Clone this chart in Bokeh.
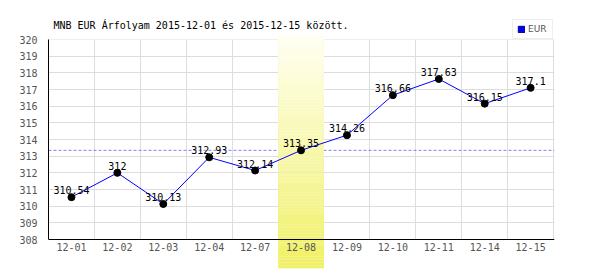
from bokeh.plotting import figure
from bokeh.models import Range1d, FixedTicker, Span, Legend, LegendItem
from bokeh.core.properties import value
from bokeh.embed import file_html
from bokeh.resources import INLINE

# ---- data ----
dates = ["12-01", "12-02", "12-03", "12-04", "12-07", "12-08",
         "12-09", "12-10", "12-11", "12-14", "12-15"]
rates = [310.54, 312.00, 310.13, 312.93, 312.14, 313.35,
         314.26, 316.66, 317.63, 316.15, 317.10]
y_ticks = list(range(308, 321))
highlight = "12-08"
series_name = "EUR"
title_text = "MNB EUR Árfolyam 2015-12-01 és 2015-12-15 között."

# ---- layout ----
W, H = 600, 270
B_LEFT, B_RIGHT, B_TOP, B_BOTTOM = 48, 46, 2, 2
Y_TOP_PX, Y_BOT_PX = 39, 239          # pixel rows of top / bottom y tick
BAND_TOP_PX = 35
TITLE_BASE_PX = 25
ppu = (Y_BOT_PX - Y_TOP_PX) / (y_ticks[-1] - y_ticks[0])
y_end = y_ticks[-1] + (Y_TOP_PX - B_TOP) / ppu
y_start = y_ticks[0] - (H - B_BOTTOM - Y_BOT_PX) / ppu
band_top = y_ticks[-1] + (Y_TOP_PX - BAND_TOP_PX) / ppu
n = len(dates)
x_end = n + 0.02

MONO = value("DejaVu Sans Mono")

p = figure(width=W, height=H, x_range=Range1d(0, x_end), y_range=Range1d(y_start, y_end),
           output_backend="svg", toolbar_location=None, x_axis_location=None, title=None,
           min_border_left=B_LEFT, min_border_right=B_RIGHT,
           min_border_top=B_TOP, min_border_bottom=B_BOTTOM)
p.outline_line_color = None
p.background_fill_color = "white"
p.border_fill_color = "white"

# grids
p.xgrid.ticker = FixedTicker(ticks=list(range(1, n + 1)))
p.ygrid.ticker = FixedTicker(ticks=y_ticks)
for g in (p.xgrid, p.ygrid):
    g.grid_line_color = "#dddddd"
    g.grid_line_width = 1

# y axis
ax = p.yaxis[0]
ax.ticker = FixedTicker(ticks=y_ticks)
ax.bounds = (y_ticks[0], y_ticks[-1])
ax.axis_line_color = "black"
ax.major_tick_line_color = None
ax.minor_tick_line_color = None
ax.major_label_text_font = "DejaVu Sans Mono"
ax.major_label_text_font_size = "10px"
ax.major_label_text_color = "#555555"
ax.major_label_standoff = 5

# reference dashed line at highlighted day's rate
hi = dates.index(highlight)
p.add_layout(Span(location=rates[hi], dimension="width", line_color="#8080ff",
                  line_dash="3 2", line_width=1, level="underlay"))

# white covers outside the value area (hide grid lines there)
p.quad(left=[0, 0], right=[x_end, x_end], bottom=[y_start, y_ticks[-1]],
       top=[y_ticks[0], y_end], fill_color="white", line_color=None)

# gradient highlight band
steps = 80
top_c = (255, 255, 242)
bot_c = (240, 240, 100)
lefts, rights, bots, tops, cols = [], [], [], [], []
span_y = band_top - y_start
for i in range(steps):
    t0 = band_top - span_y * i / steps
    t1 = band_top - span_y * (i + 1) / steps
    f = (i + 0.5) / steps
    c = tuple(int(round(a + (b - a) * f)) for a, b in zip(top_c, bot_c))
    lefts.append(hi); rights.append(hi + 1); tops.append(t0); bots.append(t1)
    cols.append("#%02x%02x%02x" % c)
p.quad(left=lefts, right=rights, top=tops, bottom=bots, fill_color=cols, line_color=None)

# bottom axis line
p.add_layout(Span(location=y_ticks[0], dimension="width", line_color="black", line_width=1))

xs = [i + 0.5 for i in range(n)]

# legend proxy renderer (zero-size, hidden under the first point)
r_leg = p.quad(left=xs[:1], right=xs[:1], top=rates[:1], bottom=rates[:1],
               fill_color="#0000ff", line_color="#000080")

p.line(xs, rates, line_color="#0000ff", line_width=1)
p.scatter(xs, rates, size=7, fill_color="black", line_color="black")

labels = [f"{v:g}" for v in rates]
p.text(xs, rates, text=labels, text_font=MONO, text_font_size="10px",
       text_align="center", text_baseline="alphabetic", y_offset=-7, text_color="black")

# x tick labels
p.text(xs, [y_ticks[0]] * n, text=dates, text_font=MONO, text_font_size="10px",
       text_align="center", text_baseline="top", y_offset=3, text_color="#555555")

# title (as text inside the frame area)
p.text([0], [y_ticks[-1]], text=[title_text], text_font=MONO, text_font_size="10px",
       text_align="left", text_baseline="alphabetic", x_offset=5,
       y_offset=TITLE_BASE_PX - Y_TOP_PX, text_color="black")

# legend
legend = Legend(items=[LegendItem(label=series_name, renderers=[r_leg], index=0)],
                location=(464, 229), padding=4, margin=0, spacing=0,
                glyph_width=8, glyph_height=8, label_standoff=3,
                label_text_font_size="9px", label_text_font="DejaVu Sans",
                label_text_color="#555555", border_line_color="#dddddd",
                background_fill_color="white", background_fill_alpha=1)
p.add_layout(legend, "center")

open("out.html", "w").write(file_html(p, INLINE))
